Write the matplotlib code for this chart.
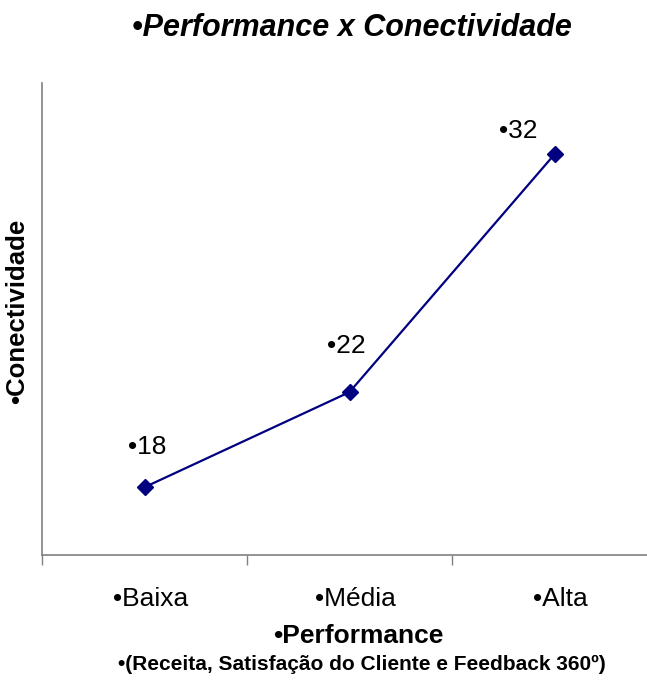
import matplotlib
matplotlib.use("Agg")
import matplotlib.pyplot as plt
from matplotlib.transforms import ScaledTranslation

categories = ["•Baixa", "•Média", "•Alta"]
values = [18, 22, 32]
point_labels = ["•18", "•22", "•32"]

title = "•Performance x Conectividade"
xlabel = "•Performance"
xsub = "•(Receita, Satisfação do Cliente e Feedback 360º)"
ylabel = "•Conectividade"

plt.rcParams['font.family'] = ['Liberation Sans', 'DejaVu Sans']

fig = plt.figure(figsize=(6.47, 6.8), dpi=100)
W, H = 647, 680
ax = fig.add_axes([42 / W, 1 - 555 / H, 615 / W, (555 - 83) / H])

x = [i + 0.5 for i in range(len(values))]
ax.plot(x, values, color="#000080", lw=1.6, marker="D", markersize=8,
        markerfacecolor="#000080", markeredgecolor="#000080")

# label offsets (points) relative to each data point
offsets = [(-12, 29), (-16.5, 33.5), (-40, 16.5)]
for xi, v, lab, off in zip(x, values, point_labels, offsets):
    ax.annotate(lab, (xi, v), xytext=off, textcoords="offset points",
                fontsize=19, ha="left", va="center", color="black")

ax.set_xlim(0, 3)
ax.set_ylim(15.15, 35.0)
ax.set_xticks([0, 1, 2, 3])
ax.set_xticklabels([])
ax.set_xticks(x, minor=True)
ax.set_xticklabels(categories, minor=True, fontsize=19)
ax.tick_params(axis="x", which="minor", length=0, pad=23)
ax.tick_params(axis="x", which="major", length=7, width=1, color="#808080")
shift = ScaledTranslation(6 / 100, 0, fig.dpi_scale_trans)
for lbl in ax.get_xticklabels(minor=True):
    lbl.set_transform(lbl.get_transform() + shift)
ax.set_yticks([])
for s in ["top", "right"]:
    ax.spines[s].set_visible(False)
for s in ["left", "bottom"]:
    ax.spines[s].set_color("#808080")
    ax.spines[s].set_linewidth(1.2)

fig.text(352 / W, 1 - 28 / H, title, fontsize=22, fontweight="bold",
         fontstyle="italic", ha="center", va="center")
fig.text(358 / W, 1 - 636 / H, xlabel, fontsize=19, fontweight="bold",
         ha="center", va="center")
fig.text(362 / W, 1 - 664 / H, xsub, fontsize=15, fontweight="bold",
         ha="center", va="center")
fig.text(17 / W, 1 - 311 / H, ylabel, fontsize=18.5, fontweight="bold",
         rotation=90, ha="center", va="center")

fig.savefig("out.png", dpi=100)
